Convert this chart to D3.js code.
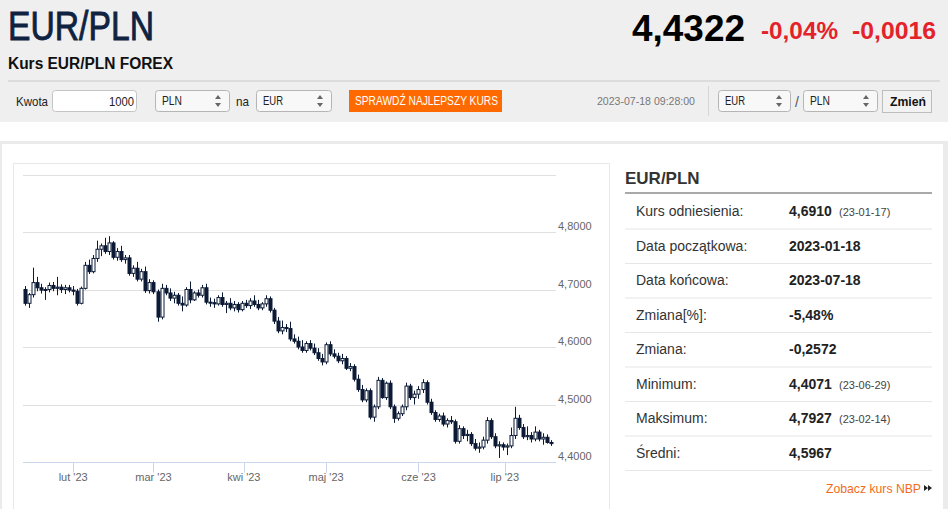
<!DOCTYPE html>
<html lang="pl">
<head>
<meta charset="UTF-8">
<title>Kurs EUR/PLN FOREX</title>
<script src="https://d3js.org/d3.v7.min.js"></script>
<style>
  html, body { margin: 0; padding: 0; background: #fff; }
  svg { display: block; }
  text { font-family: "Liberation Sans", Arial, sans-serif; }
</style>
</head>
<body>
<svg id="page" width="948" height="509"></svg>
<script>
// trading days (MM-DD, 2023)
const dates = [
  "01-16","01-17","01-18","01-19","01-20","01-23","01-24","01-25","01-26","01-27","01-30","01-31",
  "02-01","02-02","02-03","02-06","02-07","02-08","02-09","02-10","02-13","02-14","02-15","02-16","02-17","02-20","02-21","02-22","02-23","02-24","02-27","02-28",
  "03-01","03-02","03-03","03-06","03-07","03-08","03-09","03-10","03-13","03-14","03-15","03-16","03-17","03-20","03-21","03-22","03-23","03-24","03-27","03-28","03-29","03-30","03-31",
  "04-03","04-04","04-05","04-06","04-07","04-10","04-11","04-12","04-13","04-14","04-17","04-18","04-19","04-20","04-21","04-24","04-25","04-26","04-27","04-28",
  "05-01","05-02","05-03","05-04","05-05","05-08","05-09","05-10","05-11","05-12","05-15","05-16","05-17","05-18","05-19","05-22","05-23","05-24","05-25","05-26","05-29","05-30","05-31",
  "06-01","06-02","06-05","06-06","06-07","06-08","06-09","06-12","06-13","06-14","06-15","06-16","06-19","06-20","06-21","06-22","06-23","06-26","06-27","06-28","06-29","06-30",
  "07-03","07-04","07-05","07-06","07-07","07-10","07-11","07-12","07-13","07-14","07-17","07-18"
];

const open = [
  4.700,4.676,4.691,4.712,4.703,4.699,4.700,4.707,4.702,4.704,4.700,4.703,
  4.699,4.697,4.676,4.702,4.742,4.731,4.754,4.770,4.776,4.766,4.781,4.756,4.766,4.752,4.755,4.728,4.737,4.718,4.731,4.698,
  4.712,4.696,4.652,4.702,4.694,4.685,4.690,4.676,4.673,4.700,4.682,4.694,4.690,4.703,4.678,4.677,4.675,4.686,4.674,4.676,4.668,4.674,4.665,
  4.676,4.672,4.680,4.674,4.668,4.675,4.684,4.664,4.645,4.628,4.634,4.632,4.614,4.610,4.600,4.594,4.606,4.598,4.590,4.580,
  4.574,4.604,4.588,4.584,4.576,4.580,4.563,4.566,4.544,4.526,4.508,4.524,4.478,4.496,4.542,4.512,4.537,4.496,4.476,4.484,4.496,4.532,4.512,
  4.518,4.526,4.538,4.504,4.486,4.474,4.480,4.466,4.472,4.470,4.436,4.458,4.446,4.448,4.432,4.424,4.426,4.438,4.472,4.444,4.428,4.430,
  4.426,4.428,4.446,4.476,4.460,4.444,4.446,4.440,4.452,4.440,4.443,4.434
];
const high = [
  4.706,4.694,4.738,4.722,4.710,4.704,4.712,4.713,4.722,4.709,4.708,4.708,
  4.706,4.701,4.705,4.748,4.752,4.760,4.785,4.780,4.790,4.7927,4.784,4.772,4.776,4.760,4.760,4.742,4.748,4.736,4.740,4.718,
  4.716,4.700,4.710,4.708,4.702,4.696,4.694,4.688,4.704,4.714,4.697,4.700,4.708,4.710,4.686,4.684,4.690,4.695,4.680,4.685,4.680,4.678,4.680,
  4.682,4.685,4.690,4.682,4.678,4.690,4.688,4.668,4.652,4.646,4.640,4.644,4.622,4.618,4.612,4.610,4.612,4.606,4.598,4.588,
  4.608,4.610,4.596,4.590,4.588,4.584,4.572,4.570,4.552,4.534,4.528,4.528,4.500,4.548,4.546,4.540,4.542,4.500,4.488,4.500,4.538,4.536,4.524,
  4.532,4.544,4.542,4.510,4.490,4.484,4.486,4.476,4.480,4.474,4.464,4.462,4.456,4.452,4.440,4.434,4.444,4.478,4.476,4.450,4.436,4.434,
  4.432,4.460,4.496,4.482,4.466,4.462,4.452,4.462,4.456,4.450,4.448,4.438
];
const low = [
  4.672,4.668,4.686,4.697,4.693,4.682,4.695,4.697,4.690,4.694,4.692,4.695,
  4.690,4.672,4.674,4.700,4.727,4.728,4.748,4.758,4.762,4.760,4.752,4.750,4.748,4.745,4.724,4.722,4.714,4.714,4.694,4.693,
  4.692,4.644,4.648,4.690,4.680,4.676,4.672,4.662,4.670,4.676,4.680,4.686,4.686,4.674,4.670,4.668,4.672,4.670,4.659,4.664,4.662,4.660,4.662,
  4.668,4.666,4.670,4.664,4.664,4.670,4.660,4.640,4.624,4.622,4.626,4.610,4.606,4.596,4.590,4.590,4.594,4.586,4.576,4.568,
  4.570,4.584,4.580,4.572,4.570,4.560,4.558,4.540,4.522,4.504,4.504,4.474,4.470,4.492,4.510,4.508,4.492,4.468,4.472,4.480,4.490,4.508,4.500,
  4.510,4.520,4.500,4.482,4.470,4.470,4.462,4.460,4.466,4.432,4.432,4.440,4.436,4.428,4.420,4.416,4.422,4.432,4.440,4.424,4.4071,4.420,
  4.412,4.424,4.440,4.456,4.440,4.438,4.434,4.436,4.436,4.430,4.432,4.428
];
const close = [
  4.676,4.691,4.712,4.703,4.699,4.700,4.707,4.702,4.704,4.700,4.703,4.699,
  4.697,4.676,4.702,4.742,4.731,4.754,4.770,4.776,4.766,4.781,4.756,4.766,4.752,4.755,4.728,4.737,4.718,4.731,4.698,4.712,
  4.696,4.652,4.702,4.694,4.685,4.690,4.676,4.673,4.700,4.682,4.694,4.690,4.703,4.678,4.677,4.675,4.686,4.674,4.676,4.668,4.674,4.665,4.676,
  4.672,4.680,4.674,4.668,4.675,4.684,4.664,4.645,4.628,4.634,4.632,4.614,4.610,4.600,4.594,4.606,4.598,4.590,4.580,4.574,
  4.604,4.588,4.584,4.576,4.580,4.563,4.566,4.544,4.526,4.508,4.524,4.478,4.496,4.542,4.512,4.537,4.496,4.476,4.484,4.496,4.532,4.512,4.518,
  4.526,4.538,4.504,4.486,4.474,4.480,4.466,4.472,4.470,4.436,4.458,4.446,4.448,4.432,4.424,4.426,4.438,4.472,4.444,4.428,4.430,4.426,
  4.428,4.446,4.476,4.460,4.444,4.446,4.440,4.452,4.440,4.443,4.434,4.432
];

const yTicks = [4.4, 4.5, 4.6, 4.7, 4.8, 4.9];
const monthTicks = [["02", "lut '23"], ["03", "mar '23"], ["04", "kwi '23"], ["05", "maj '23"], ["06", "cze '23"], ["07", "lip '23"]];

const statLabels = ["Kurs odniesienia:", "Data początkowa:", "Data końcowa:", "Zmiana[%]:", "Zmiana:", "Minimum:", "Maksimum:", "Średni:"];
const statValues = ["4,6910", "2023-01-18", "2023-07-18", "-5,48%", "-0,2572", "4,4071", "4,7927", "4,5967"];
const statDates  = ["(23-01-17)", "", "", "", "", "(23-06-29)", "(23-02-14)", ""];

const fmt = v => d3.format(".4f")(v).replace(".", ",");

const svg = d3.select("#page");

// no condensed font installed: squeeze text to the width it takes on the page
function narrow(sel, w) {
  return sel.attr("textLength", w).attr("lengthAdjust", "spacingAndGlyphs");
}

// ---- header band
svg.append("rect").attr("width", 948).attr("height", 122).attr("fill", "#efefef");
narrow(svg.append("text").attr("x", 8).attr("y", 40)
  .attr("font-size", 41).attr("fill", "#0f2341")
  .attr("stroke", "#0f2341").attr("stroke-width", 0.9).text("EUR/PLN"), 146);
narrow(svg.append("text").attr("x", 632).attr("y", 41)
  .attr("font-size", 37).attr("font-weight", "bold").attr("fill", "#000").text("4,4322"), 113);
narrow(svg.append("text").attr("x", 761).attr("y", 39)
  .attr("font-size", 23).attr("font-weight", "bold").attr("fill", "#e4222a").text("-0,04%"), 77);
narrow(svg.append("text").attr("x", 852).attr("y", 39)
  .attr("font-size", 23).attr("font-weight", "bold").attr("fill", "#e4222a").text("-0,0016"), 84);
narrow(svg.append("text").attr("x", 8).attr("y", 69)
  .attr("font-size", 16).attr("font-weight", "bold").attr("fill", "#111").text("Kurs EUR/PLN FOREX"), 165);
svg.append("rect").attr("x", 8).attr("y", 80).attr("width", 932).attr("height", 2).attr("fill", "#dcdcdc");

// ---- toolbar
function selectBox(x, w, label) {
  const g = svg.append("g").attr("transform", `translate(${x},90)`);
  g.append("rect").attr("x", 0.5).attr("y", 0.5).attr("width", w).attr("height", 21).attr("rx", 3)
    .attr("fill", "#f8f8f8").attr("stroke", "#b5b5b5");
  narrow(g.append("text").attr("x", 7).attr("y", 15).attr("font-size", 13)
    .attr("fill", "#222").text(label), 20);
  g.append("path").attr("d", `M${w - 14},9 l3,-4 l3,4 Z M${w - 14},13 l3,4 l3,-4 Z`).attr("fill", "#666");
}
narrow(svg.append("text").attr("x", 16).attr("y", 106).attr("font-size", 13)
  .attr("fill", "#222").text("Kwota"), 32);
svg.append("rect").attr("x", 52.5).attr("y", 90.5).attr("width", 84).attr("height", 21).attr("rx", 3)
  .attr("fill", "#fff").attr("stroke", "#c4c4c4");
narrow(svg.append("text").attr("x", 109).attr("y", 106)
  .attr("font-size", 13).attr("fill", "#222").text("1000"), 25);
selectBox(155, 74, "PLN");
narrow(svg.append("text").attr("x", 236).attr("y", 106).attr("font-size", 13)
  .attr("fill", "#222").text("na"), 13);
selectBox(256, 75, "EUR");
svg.append("rect").attr("x", 349).attr("y", 90).attr("width", 153).attr("height", 22).attr("fill", "#ff6a00");
narrow(svg.append("text").attr("x", 355).attr("y", 105)
  .attr("font-size", 12).attr("fill", "#fff").text("SPRAWDŹ NAJLEPSZY KURS"), 143);
narrow(svg.append("text").attr("x", 597).attr("y", 105)
  .attr("font-size", 11).attr("fill", "#777").text("2023-07-18 09:28:00"), 98);
svg.append("rect").attr("x", 708).attr("y", 86).attr("width", 1).attr("height", 30).attr("fill", "#d6d6d6");
selectBox(718, 72, "EUR");
svg.append("text").attr("x", 795).attr("y", 107).attr("font-size", 14)
  .attr("fill", "#555").text("/");
selectBox(803, 74, "PLN");
svg.append("rect").attr("x", 882.5).attr("y", 90.5).attr("width", 49).attr("height", 22)
  .attr("fill", "#f2f2f2").attr("stroke", "#bdbdbd");
narrow(svg.append("text").attr("x", 890).attr("y", 106)
  .attr("font-size", 13).attr("font-weight", "bold").attr("fill", "#111").text("Zmień"), 36);

// ---- content panel
svg.append("rect").attr("y", 141).attr("width", 948).attr("height", 368).attr("fill", "#ebebeb");
svg.append("rect").attr("x", 2).attr("y", 144).attr("width", 941).attr("height", 365).attr("fill", "#fff");
svg.append("rect").attr("x", 13.5).attr("y", 163.5).attr("width", 596).attr("height", 360)
  .attr("fill", "#fff").attr("stroke", "#e8e8e8");

// ---- chart
const x = d3.scalePoint().domain(dates).range([23, 553]).padding(0.5);
const y = d3.scaleLinear().domain([4.4, 4.9]).range([462, 174.5]);
const plotRight = 556;

const grid = svg.append("g");
grid.selectAll("line").data(yTicks.slice(1)).join("line")
  .attr("x1", 23).attr("x2", plotRight)
  .attr("y1", d => Math.round(y(d)) + 0.5).attr("y2", d => Math.round(y(d)) + 0.5)
  .attr("stroke", "#e0e0e0");
grid.selectAll("text").data(yTicks.slice(0, -1)).join("text")
  .attr("x", 558).attr("y", d => y(d) - 2)
  .attr("font-size", 11).attr("fill", "#666").text(fmt);

// x axis at the first trading day of each month (half a step earlier if the 1st falls on a weekend)
const step = x.step();
const tickPos = monthTicks.map(([m, label]) => {
  const d = dates.find(s => s.slice(0, 2) === m);
  return { label, pos: x(d) - (d.slice(3) === "01" ? 0 : step / 2) };
});
const axisG = svg.append("g").attr("transform", "translate(0,462.5)");
axisG.append("line").attr("x1", 23).attr("x2", plotRight).attr("stroke", "#ccd6eb");
axisG.selectAll(".tk").data(tickPos).join("line").attr("class", "tk")
  .attr("x1", d => Math.round(d.pos) + 0.5).attr("x2", d => Math.round(d.pos) + 0.5)
  .attr("y1", 0).attr("y2", 10).attr("stroke", "#ccd6eb");
axisG.selectAll("text").data(tickPos).join("text")
  .attr("x", d => d.pos).attr("y", 18).attr("text-anchor", "middle")
  .attr("font-size", 11).attr("fill", "#666").text(d => d.label);

// candles
const ink = "#0c1a36";
const candles = svg.append("g").selectAll("g").data(dates).join("g");
candles.append("line")
  .attr("x1", d => Math.round(x(d)) + 0.5).attr("x2", d => Math.round(x(d)) + 0.5)
  .attr("y1", (d, i) => y(high[i])).attr("y2", (d, i) => y(low[i]))
  .attr("stroke", ink).attr("stroke-width", 1);
candles.append("rect")
  .attr("x", d => Math.round(x(d)) - 1)
  .attr("width", 3)
  .attr("y", (d, i) => y(Math.max(open[i], close[i])))
  .attr("height", (d, i) => Math.max(1, Math.abs(y(open[i]) - y(close[i]))))
  .attr("fill", (d, i) => close[i] >= open[i] ? "#fff" : ink)
  .attr("stroke", ink).attr("stroke-width", 1);

// ---- statistics panel
svg.append("text").attr("x", 625).attr("y", 184).attr("font-family", "'Open Sans', sans-serif")
  .attr("font-size", 17).attr("font-weight", "bold").attr("fill", "#333").text("EUR/PLN");
svg.append("rect").attr("x", 625).attr("y", 192).attr("width", 307).attr("height", 2).attr("fill", "#a9a9a9");

const rowY = d3.scaleBand().domain(d3.range(statLabels.length)).range([194, 470]);
const rows = svg.append("g").selectAll("g").data(statLabels).join("g")
  .attr("transform", (d, i) => `translate(0,${rowY(i)})`);
rows.filter((d, i) => i > 0).append("rect").attr("x", 625).attr("y", 0).attr("width", 307).attr("height", 1).attr("fill", "#e6e6e6");
rows.append("text").attr("x", 636).attr("y", rowY.bandwidth() / 2 + 5)
  .attr("font-size", 14).attr("fill", "#333").text(d => d);
rows.append("text").attr("x", 789).attr("y", rowY.bandwidth() / 2 + 5)
  .attr("font-size", 14).attr("font-weight", "bold").attr("fill", "#222").text((d, i) => statValues[i]);
rows.append("text").attr("x", 839).attr("y", rowY.bandwidth() / 2 + 5)
  .attr("font-size", 11).attr("fill", "#444").text((d, i) => statDates[i]);
svg.append("rect").attr("x", 625).attr("y", 470).attr("width", 307).attr("height", 1).attr("fill", "#e6e6e6");

narrow(svg.append("text").attr("x", 826).attr("y", 493)
  .attr("font-size", 13).attr("fill", "#f26b1d").text("Zobacz kurs NBP"), 95);
svg.append("path").attr("d", "M924,485 l4,3 l-4,3 Z M928,485 l4,3 l-4,3 Z").attr("fill", "#222");
</script>
</body>
</html>
